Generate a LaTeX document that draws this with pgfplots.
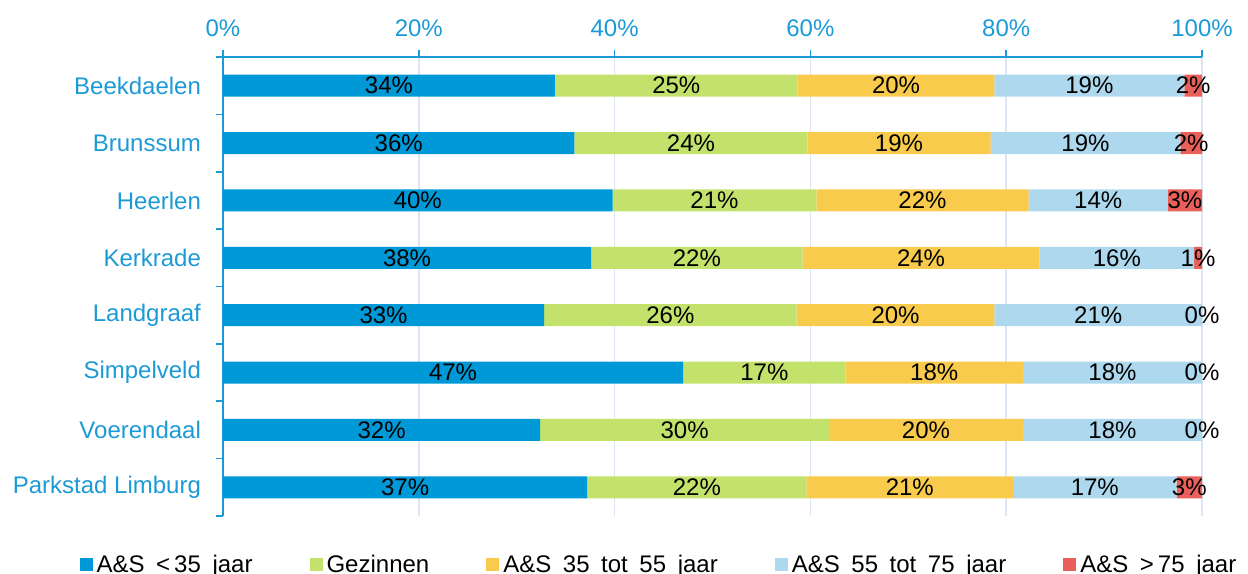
\documentclass[border=0pt]{standalone}
\usepackage{pgfplots}
\pgfplotsset{compat=1.18}
\usepackage{pgfplotstable}
\usepackage{fontspec}
\setmainfont{Liberation Sans}

\definecolor{cBlue}{HTML}{0099D8}
\definecolor{cGreen}{HTML}{C2E26C}
\definecolor{cYellow}{HTML}{F8CB4C}
\definecolor{cLight}{HTML}{ADD8EE}
\definecolor{cRed}{HTML}{E9605A}
\definecolor{cText}{HTML}{1C9AD6}
\definecolor{cGrid}{HTML}{DCE6F2}

\newcommand\legfont{\fontsize{12}{14}\selectfont\spaceskip=5.8pt\relax}

% shares in %, la..le = labels as printed
\pgfplotstableread{
row a    b    c    d    e    la lb lc ld le
0   33.9 24.8 20.1 19.4 1.8  34 25 20 19 2
1   35.9 23.8 18.7 19.4 2.2  36 24 19 19 2
2   39.8 20.8 21.7 14.2 3.5  40 21 22 14 3
3   37.6 21.6 24.2 15.8 0.8  38 22 24 16 1
4   32.8 25.8 20.2 21.2 0    33 26 20 21 0
5   47.0 16.6 18.1 18.3 0    47 17 18 18 0
6   32.4 29.5 19.8 18.3 0    32 30 20 18 0
7   37.2 22.4 21.1 16.7 2.6  37 22 21 17 3
}\shares

\pgfplotsset{
    frame/.style={
        scale only axis,
        width=489.5pt,
        height=229.5pt,
        xmin=0, xmax=100,
        ymin=-0.5, ymax=7.5,
        y dir=reverse,
    },
    labels/.style={
        point meta=explicit symbolic,
        nodes near coords={\pgfplotspointmeta\%},
        every node near coord/.append style={font=\fontsize{12}{14}\selectfont, text=black, anchor=center},
    },
}

\begin{document}
\begin{tikzpicture}
\begin{axis}[
    frame,
    xbar stacked,
    labels,
    bar width=11pt,
    axis x line*=top,
    axis y line*=left,
    axis line style={cText, line width=0.8pt, -},
    tick align=outside,
    major tick length=3.5pt,
    minor tick length=3.5pt,
    xtick={0,20,...,100},
    xticklabel={\pgfmathprintnumber{\tick}\%},
    /pgf/number format/assume math mode=true,
    xticklabel style={font=\fontsize{12}{14}\selectfont, text=cText, yshift=3pt},
    x tick style={cText, line width=0.8pt},
    xmajorgrids,
    grid style={cGrid, line width=0.8pt},
    ytick={0,...,7},
    yticklabels={Beekdaelen,Brunssum,Heerlen,Kerkrade,Landgraaf,Simpelveld,Voerendaal,Parkstad Limburg},
    yticklabel style={font=\fontsize{12}{14}\selectfont, text=cText, xshift=-4pt},
    major y tick style={draw=none},
    minor ytick={-0.5,0.5,...,7.5},
    minor y tick style={cText, line width=0.8pt},
    legend columns=5,
    legend style={draw=none, fill=none, at={(-0.153,-0.066)}, anchor=north west,
        font=\legfont,
        /tikz/every even column/.append style={column sep=26.5pt}},
    legend image code/.code={\fill[#1] (0pt,-3.3pt) rectangle (6.5pt,3.2pt);},
]
\addplot[fill=cBlue, draw=none, forget plot] table[x=a, y=row, meta=la] {\shares};
\addplot[fill=cGreen, draw=none, forget plot] table[x=b, y=row, meta=lb] {\shares};
\addplot[fill=cYellow, draw=none, forget plot] table[x=c, y=row, meta=lc] {\shares};
\addplot[fill=cLight, draw=none, forget plot] table[x=d, y=row, meta=ld] {\shares};
\addplot[fill=cRed, draw=none, forget plot] table[x=e, y=row, meta=le] {\shares};

\addlegendimage{fill=cBlue, draw=none}
\addlegendentry{A\&S <\,35 jaar}
\addlegendimage{fill=cGreen, draw=none}
\addlegendentry{Gezinnen}
\addlegendimage{fill=cYellow, draw=none}
\addlegendentry{A\&S 35 tot 55 jaar}
\addlegendimage{fill=cLight, draw=none}
\addlegendentry{A\&S 55 tot 75 jaar}
\addlegendimage{fill=cRed, draw=none}
\addlegendentry{A\&S >\,75 jaar}
\end{axis}
% labels of the empty (0%) segments at the bar ends
\begin{axis}[frame, hide axis, labels]
\addplot[draw=none] coordinates {(100,4) [0] (100,5) [0] (100,6) [0]};
\end{axis}
\pgfresetboundingbox
\path ([xshift=-111.5pt,yshift=-29pt]current axis.south west)
    rectangle ([xshift=23pt,yshift=28.5pt]current axis.north east);
\end{tikzpicture}
\end{document}
